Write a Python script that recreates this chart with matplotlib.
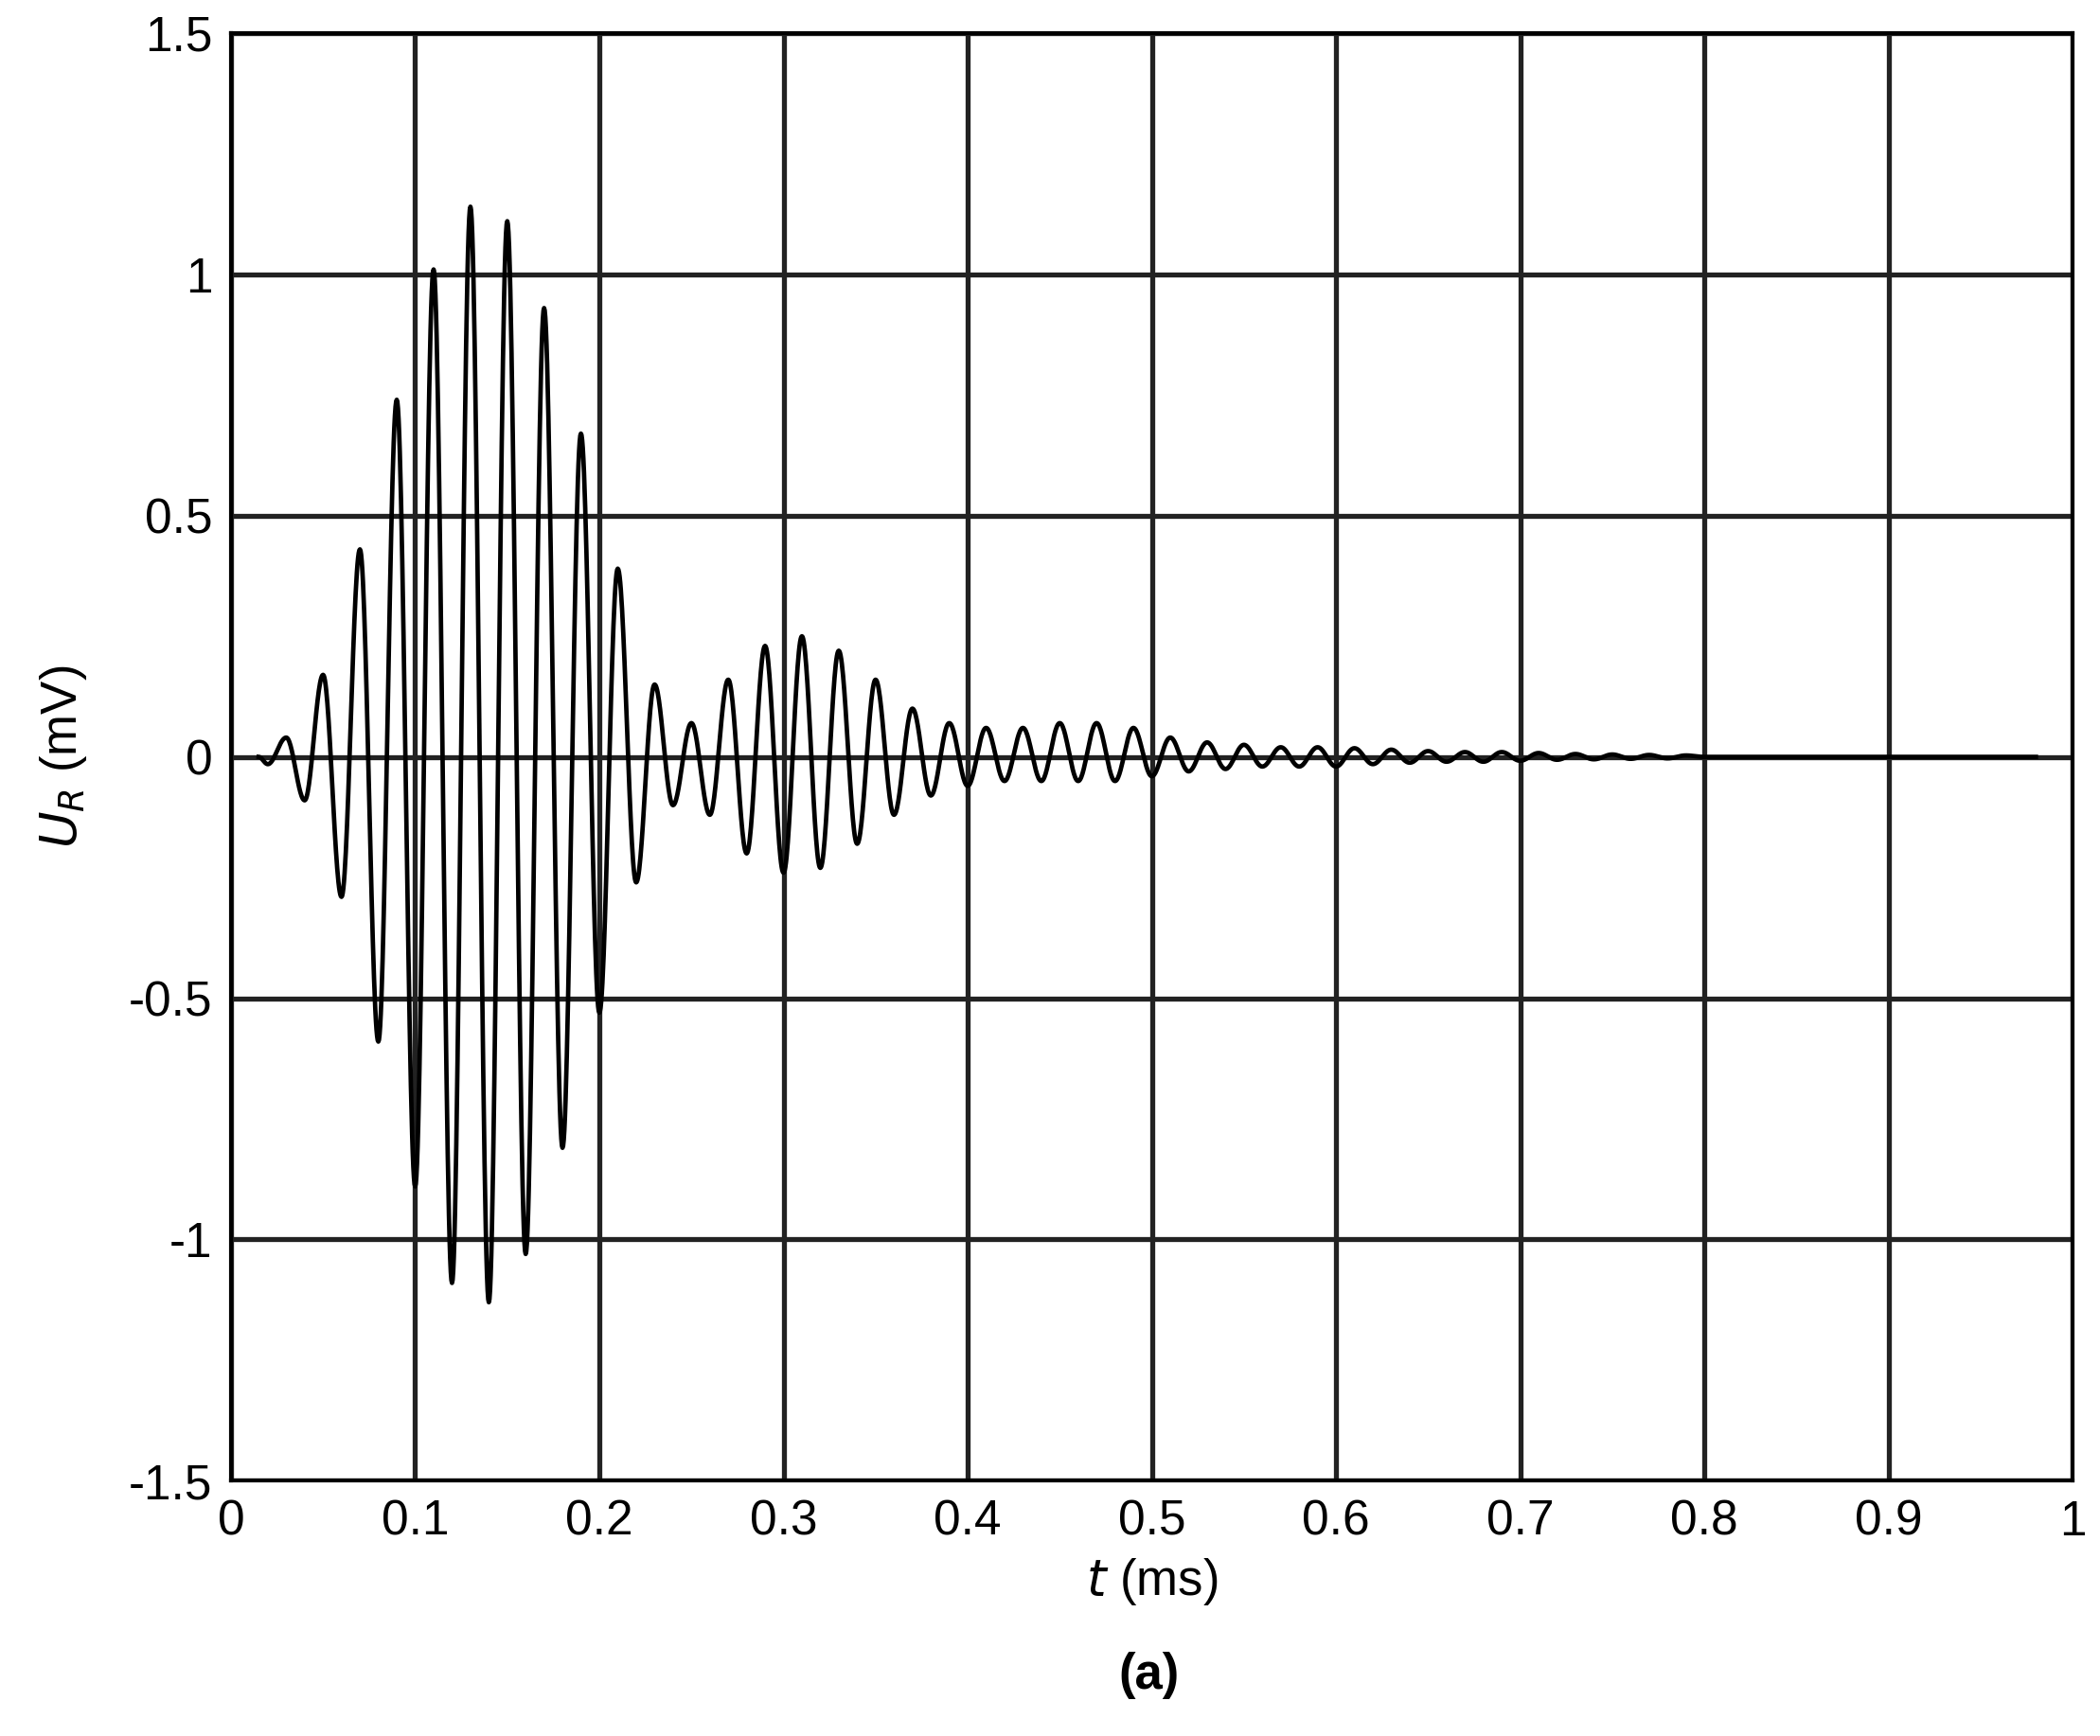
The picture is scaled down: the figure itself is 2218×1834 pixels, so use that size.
import numpy as np
import matplotlib
matplotlib.use("Agg")
import matplotlib.pyplot as plt

plt.rcParams['font.family'] = ['Liberation Sans', 'DejaVu Sans']

# extrema of the received signal (t in ms, U in mV)
ext_t = [0.015, 0.02, 0.03, 0.04, 0.05, 0.06, 0.07, 0.08, 0.09, 0.10, 0.11, 0.12, 0.13, 0.14, 0.15,
         0.16, 0.17, 0.18, 0.19, 0.20, 0.21, 0.22, 0.23, 0.24, 0.25, 0.26, 0.27, 0.28, 0.29,
         0.30, 0.31, 0.32, 0.33, 0.34, 0.35, 0.36, 0.37, 0.38, 0.39, 0.40, 0.41, 0.42, 0.43,
         0.44, 0.45, 0.46, 0.47, 0.48, 0.49, 0.50, 0.51, 0.52, 0.53, 0.54, 0.55, 0.56, 0.57,
         0.58, 0.59, 0.60, 0.61, 0.62, 0.63, 0.64, 0.65, 0.66, 0.67, 0.68, 0.69, 0.70, 0.71,
         0.72, 0.73, 0.74, 0.75, 0.76, 0.77, 0.78, 0.79, 0.80, 0.98]
ext_u = [0.0, -0.015, 0.04, -0.09, 0.17, -0.29, 0.43, -0.59, 0.74, -0.89, 1.01, -1.09, 1.14, -1.13, 1.11,
         -1.03, 0.93, -0.81, 0.67, -0.53, 0.39, -0.26, 0.15, -0.10, 0.07, -0.12, 0.16, -0.20, 0.23,
         -0.24, 0.25, -0.23, 0.22, -0.18, 0.16, -0.12, 0.10, -0.08, 0.07, -0.06, 0.06, -0.05, 0.06,
         -0.05, 0.07, -0.05, 0.07, -0.05, 0.06, -0.04, 0.04, -0.03, 0.03, -0.025, 0.025, -0.02, 0.02,
         -0.02, 0.02, -0.02, 0.018, -0.015, 0.015, -0.012, 0.012, -0.01, 0.01, -0.01, 0.01, -0.008, 0.008,
         -0.006, 0.006, -0.005, 0.005, -0.004, 0.004, -0.003, 0.003, 0.0, 0.0]

# smooth half-cosine segments between consecutive extrema
ts, us = [], []
for i in range(len(ext_t) - 1):
    s = np.linspace(0, 1, 30, endpoint=False)
    t0, t1, u0, u1 = ext_t[i], ext_t[i+1], ext_u[i], ext_u[i+1]
    ts.append(t0 + (t1 - t0) * s)
    us.append(u0 + (u1 - u0) * (1 - np.cos(np.pi * s)) / 2)
ts = np.concatenate(ts + [np.array([ext_t[-1]])])
us = np.concatenate(us + [np.array([ext_u[-1]])])

fig = plt.figure(figsize=(22.18, 18.34), dpi=100)
ax = fig.add_axes([0.11, 0.147, 0.877, 0.834])
ax.plot(ts, us, color='black', lw=3.4)
ax.set_xlim(0, 1)
ax.set_ylim(-1.5, 1.5)
ax.set_xticks(np.arange(0, 1.01, 0.1))
ax.set_xticklabels(['0', '0.1', '0.2', '0.3', '0.4', '0.5', '0.6', '0.7', '0.8', '0.9', '1'])
ax.set_yticks([-1.5, -1, -0.5, 0, 0.5, 1, 1.5])
ax.set_yticklabels(['-1.5', '-1', '-0.5', '0', '0.5', '1', '1.5'])
ax.grid(True, color='#222222', lw=3.8)
for sp in ax.spines.values():
    sp.set_linewidth(3)
ax.tick_params(labelsize=37, length=0, pad=14)
ax.set_xlabel(r'$t$ (ms)', fontsize=38, labelpad=8)
ax.set_ylabel(r'$U_R$ (mV)', fontsize=38, labelpad=30)
fig.text(0.547, 0.027, '(a)', fontsize=38, fontweight='bold', ha='center')
fig.savefig('out.png', dpi=100)
